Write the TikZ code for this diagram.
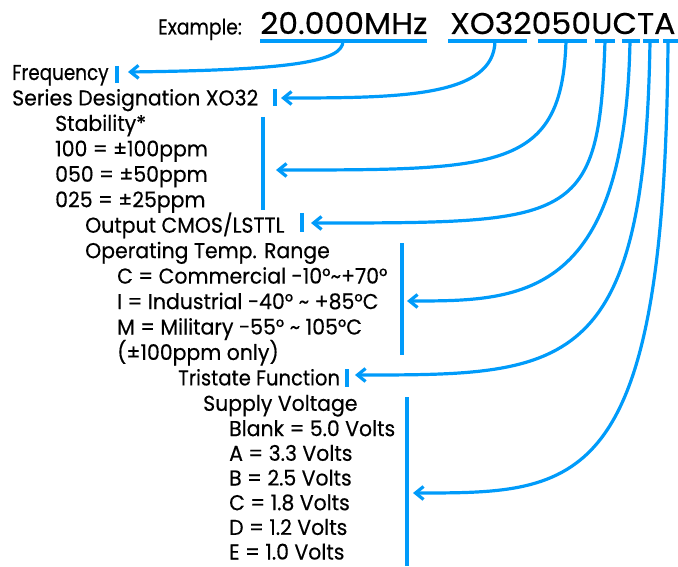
\documentclass[tikz,border=0pt]{standalone}
\usepackage{fontspec}
\usepackage{graphicx}
\setmainfont{Poppins}[FakeStretch=0.95,FakeBold=0.4]
\newfontfamily\bigA{Poppins}[FakeStretch=1.05,FakeBold=0.4]
\newfontfamily\bigB{Poppins}[FakeStretch=1.055,FakeBold=0.4]
\usetikzlibrary{arrows.meta}
\definecolor{lblue}{RGB}{0,155,250}
\begin{document}
\begin{tikzpicture}[x=1pt,y=-1pt,
  lbl/.style={anchor=base west, inner sep=0pt, font=\fontsize{21.5}{24}\selectfont},
  bigfreq/.style={anchor=base west, inner sep=0pt, font=\bigA\fontsize{30}{36}\selectfont},
  bigpart/.style={anchor=base west, inner sep=0pt, font=\bigB\fontsize{30}{36}\selectfont},
  conn/.style={draw=lblue, line width=3.2pt, -{Straight Barb[length=8pt,width=13pt]}},
  bar/.style={draw=lblue, line width=3.6pt},
  uline/.style={draw=lblue, line width=3.6pt}]
\useasboundingbox (0,0) rectangle (678,567);
% header
\node[lbl] (ex) at (158,34.5) {\scalebox{0.92}[1]{Example:}};
\node[bigfreq] (freqcode) at (260,34) {20.000MHz};
\node[bigpart] (partcode) at (450,34) {XO32050UCTA};
% text lines
\node[lbl] (t0) at (12,80) {\scalebox{0.9}[1]{Frequency}};
\node[lbl] (t1) at (12,105.45) {Series Designation XO32};
\node[lbl] (t2) at (55,130.9) {Stability*};
\node[lbl] (t3) at (55,156.35) {100 = ±100ppm};
\node[lbl] (t4) at (55,181.8) {050 = ±50ppm};
\node[lbl] (t5) at (55,207.25) {025 = ±25ppm};
\node[lbl] (t6) at (85,232.7) {Output CMOS/LSTTL};
\node[lbl] (t7) at (85,258.15) {Operating Temp. Range};
\node[lbl] (t8) at (117,283.6) {C = Commercial -10°\textasciitilde+70°};
\node[lbl] (t9) at (117,309.05) {I = Industrial -40° \textasciitilde\ +85°C};
\node[lbl] (t10) at (117,334.5) {M = Military -55° \textasciitilde\ 105°C};
\node[lbl] (t11) at (117,359.95) {(±100ppm only)};
\node[lbl] (t12) at (178,385.4) {\scalebox{0.96}[1]{Tristate Function}};
\node[lbl] (t13) at (203,410.85) {Supply Voltage};
\node[lbl] (t14) at (229,436.1) {Blank = 5.0 Volts};
\node[lbl] (t15) at (229,460.8) {A = 3.3 Volts};
\node[lbl] (t16) at (229,485.5) {B = 2.5 Volts};
\node[lbl] (t17) at (229,510.2) {C = 1.8 Volts};
\node[lbl] (t18) at (229,534.9) {D = 1.2 Volts};
\node[lbl] (t19) at (229,559.5) {E = 1.0 Volts};
% underlines
\coordinate (uFa) at (260,41); \coordinate (uFb) at (427,41);
\coordinate (uSa) at (448,41); \coordinate (uSb) at (527,41);
\coordinate (uBa) at (538,41); \coordinate (uBb) at (587,41);
\coordinate (uUa) at (595,41); \coordinate (uUb) at (615,41);
\coordinate (uCa) at (622,41); \coordinate (uCb) at (640,41);
\coordinate (uTa) at (643,41); \coordinate (uTb) at (659,41);
\coordinate (uAa) at (663,41); \coordinate (uAb) at (678,41);
\foreach \a/\b in {uFa/uFb,uSa/uSb,uBa/uBb,uUa/uUb,uCa/uCb,uTa/uTb,uAa/uAb}
  \draw[uline] (\a) -- (\b);
% bars
\coordinate (b0a) at (117,66); \coordinate (b0b) at (117,83);
\coordinate (b1a) at (275,89); \coordinate (b1b) at (275,106);
\coordinate (b2a) at (263,117); \coordinate (b2b) at (263,210);
\coordinate (b3a) at (302,213); \coordinate (b3b) at (302,232);
\coordinate (b4a) at (402,243); \coordinate (b4b) at (402,355);
\coordinate (b5a) at (347,369); \coordinate (b5b) at (347,387);
\coordinate (b6a) at (407,397); \coordinate (b6b) at (407,566);
\foreach \a/\b in {b0a/b0b,b1a/b1b,b2a/b2b,b3a/b3b,b4a/b4b,b5a/b5b,b6a/b6b}
  \draw[bar] (\a) -- (\b);
% connector starts and ends
\coordinate (sF) at (343,41);  \coordinate (eF) at (128,72);
\coordinate (sS) at (495,41);  \coordinate (eS) at (281,98);
\coordinate (sB) at (566,41);  \coordinate (eB) at (276,170);
\coordinate (sU) at (605,41);  \coordinate (eU) at (311,223);
\coordinate (sC) at (630,41);  \coordinate (eC) at (407,301);
\coordinate (sT) at (650,41);  \coordinate (eT) at (355,375);
\coordinate (sA) at (668,41);  \coordinate (eA) at (413,493);
\draw[conn] (sF) .. controls (343,62) and (290,70) .. (eF);
\draw[conn] (sS) .. controls (494,97) and (400,98) .. (eS);
\draw[conn] (sB) .. controls (562,170) and (500,170) .. (eB);
\draw[conn] (sU) .. controls (599,223) and (575,223) .. (eU);
\draw[conn] (sC) .. controls (625,301) and (520,301) .. (eC);
\draw[conn] (sT) .. controls (645,375) and (565,375) .. (eT);
\draw[conn] (sA) .. controls (665,493) and (580,493) .. (eA);
\end{tikzpicture}
\end{document}
